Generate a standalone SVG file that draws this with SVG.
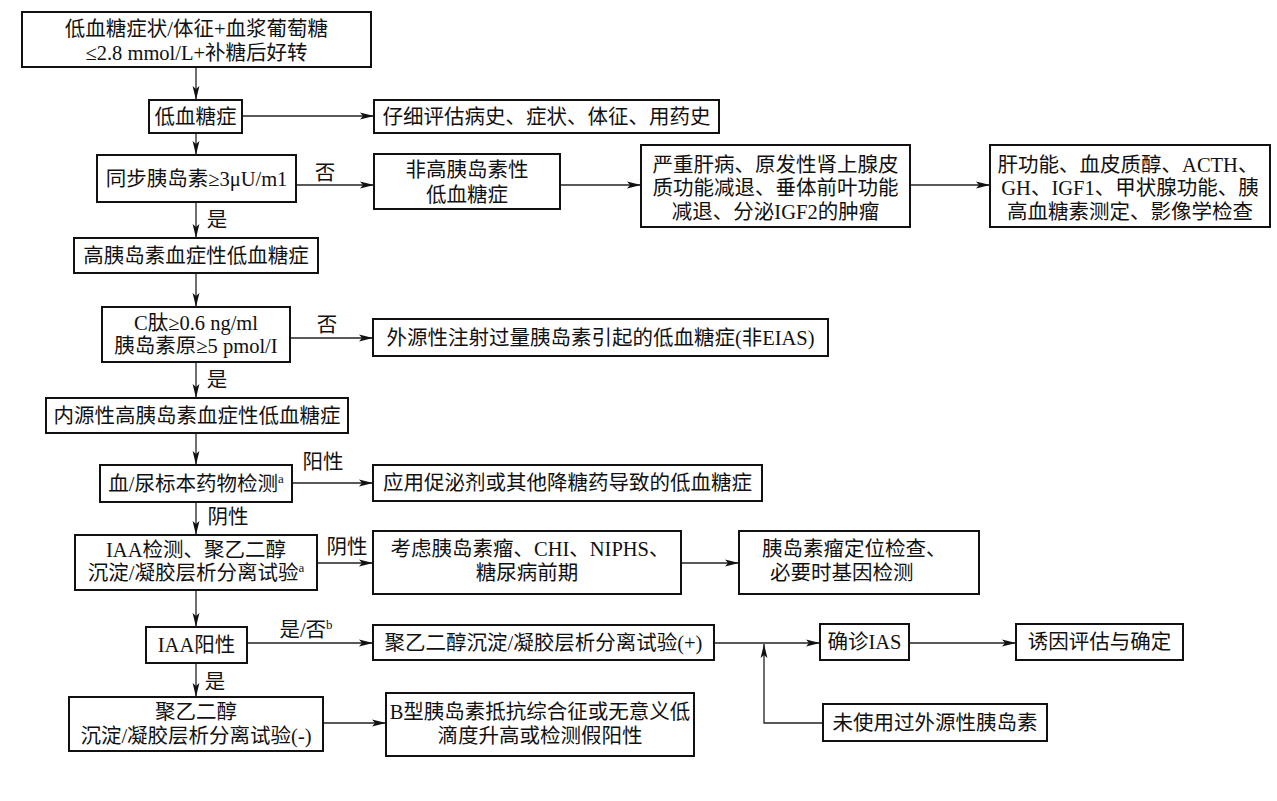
<svg xmlns="http://www.w3.org/2000/svg" width="1277" height="801" viewBox="0 0 1277 801">
<style>
.box{fill:#fff;stroke:#111;stroke-width:2}
.t{font-family:"Liberation Serif","Noto Sans CJK SC",serif;font-size:20.5px;fill:#111;text-anchor:middle}
.ts{text-anchor:start}
.c{fill:none;stroke:#222;stroke-width:1.3}
.sup{font-size:13px}
</style>
<defs>
<marker id="ah" markerUnits="userSpaceOnUse" markerWidth="14" markerHeight="8" refX="14" refY="4" orient="auto">
<path d="M0,0.6 L14,4 L0,7.4 L3,4 z" fill="#111"/>
</marker>
</defs>
<rect width="1277" height="801" fill="#fff"/>
<g id="connectors">
<path class="c" d="M196,67 V100" marker-end="url(#ah)"/>
<path class="c" d="M242,116 H374" marker-end="url(#ah)"/>
<path class="c" d="M196,133 V155" marker-end="url(#ah)"/>
<path class="c" d="M296,185 H374" marker-end="url(#ah)"/>
<path class="c" d="M560,185 H641" marker-end="url(#ah)"/>
<path class="c" d="M910,185 H990" marker-end="url(#ah)"/>
<path class="c" d="M196,202 V238" marker-end="url(#ah)"/>
<path class="c" d="M196,273 V307" marker-end="url(#ah)"/>
<path class="c" d="M290,338 H373" marker-end="url(#ah)"/>
<path class="c" d="M196,362 V398" marker-end="url(#ah)"/>
<path class="c" d="M196,433 V465" marker-end="url(#ah)"/>
<path class="c" d="M292,483 H373" marker-end="url(#ah)"/>
<path class="c" d="M196,502 V535" marker-end="url(#ah)"/>
<path class="c" d="M317,563 H373" marker-end="url(#ah)"/>
<path class="c" d="M681,563 H739" marker-end="url(#ah)"/>
<path class="c" d="M196,590 V627" marker-end="url(#ah)"/>
<path class="c" d="M247,643 H373" marker-end="url(#ah)"/>
<path class="c" d="M714,643 H820" marker-end="url(#ah)"/>
<path class="c" d="M823,723 H764 V644" marker-end="url(#ah)"/>
<path class="c" d="M909,643 H1016" marker-end="url(#ah)"/>
<path class="c" d="M196,663 V697" marker-end="url(#ah)"/>
<path class="c" d="M323,723 H386" marker-end="url(#ah)"/>
</g>
<g id="labels">
<text class="t" x="325" y="180">否</text>
<text class="t" x="217" y="227">是</text>
<text class="t" x="327" y="332">否</text>
<text class="t" x="217" y="387">是</text>
<text class="t" x="323" y="469">阳性</text>
<text class="t" x="228" y="524">阴性</text>
<text class="t" x="347" y="554">阴性</text>
<text class="t" x="306" y="637">是/否<tspan class="sup" dy="-8">b</tspan></text>
<text class="t" x="215" y="689">是</text>
</g>
<g id="n1"><rect class="box" x="22" y="12" width="349" height="55"/>
<text class="t" x="196.5" y="36">低血糖症状/体征+血浆葡萄糖</text>
<text class="t" x="196.5" y="60">≤2.8 mmol/L+补糖后好转</text></g>
<g id="n2"><rect class="box" x="149" y="100" width="93" height="33"/>
<text class="t" x="195.5" y="123.5">低血糖症</text></g>
<g id="n3"><rect class="box" x="374" y="100" width="345" height="33"/>
<text class="t" x="546.5" y="123.5">仔细评估病史、症状、体征、用药史</text></g>
<g id="n4"><rect class="box" x="97" y="155" width="199" height="47"/>
<text class="t" x="196.5" y="185.5">同步胰岛素≥3μU/m1</text></g>
<g id="n5"><rect class="box" x="374" y="154" width="186" height="55"/>
<text class="t" x="467" y="177">非高胰岛素性</text>
<text class="t" x="467" y="202">低血糖症</text></g>
<g id="n6"><rect class="box" x="641" y="145" width="269" height="82"/>
<text class="t" x="775.5" y="172">严重肝病、原发性肾上腺皮</text>
<text class="t" x="775.5" y="195">质功能减退、垂体前叶功能</text>
<text class="t" x="775.5" y="219">减退、分泌IGF2的肿瘤</text></g>
<g id="n7"><rect class="box" x="990" y="145" width="280" height="82"/>
<text class="t" x="1128" y="172">肝功能、血皮质醇、ACTH、</text>
<text class="t" x="1130" y="195">GH、IGF1、甲状腺功能、胰</text>
<text class="t" x="1130" y="219">高血糖素测定、影像学检查</text></g>
<g id="n8"><rect class="box" x="74" y="238" width="244" height="35"/>
<text class="t" x="196" y="262.5">高胰岛素血症性低血糖症</text></g>
<g id="n9"><rect class="box" x="102" y="307" width="188" height="55"/>
<text class="t" x="196" y="330">C肽≥0.6 ng/ml</text>
<text class="t" x="196" y="353">胰岛素原≥5 pmol/I</text></g>
<g id="n10"><rect class="box" x="373" y="319" width="455" height="37"/>
<text class="t" x="600.5" y="344.5">外源性注射过量胰岛素引起的低血糖症(非EIAS)</text></g>
<g id="n11"><rect class="box" x="46" y="398" width="302" height="35"/>
<text class="t" x="197" y="422.5">内源性高胰岛素血症性低血糖症</text></g>
<g id="n12"><rect class="box" x="100" y="465" width="192" height="37"/>
<text class="t" x="196" y="490.5">血/尿标本药物检测<tspan class="sup" dy="-8">a</tspan></text></g>
<g id="n13"><rect class="box" x="373" y="465" width="389" height="36"/>
<text class="t" x="567.5" y="490">应用促泌剂或其他降糖药导致的低血糖症</text></g>
<g id="n14"><rect class="box" x="75" y="535" width="242" height="55"/>
<text class="t" x="196" y="557">IAA检测、聚乙二醇</text>
<text class="t" x="196" y="580">沉淀/凝胶层析分离试验<tspan class="sup" dy="-8">a</tspan></text></g>
<g id="n15"><rect class="box" x="373" y="531" width="308" height="63"/>
<text class="t" x="530" y="556">考虑胰岛素瘤、CHI、NIPHS、</text>
<text class="t" x="527" y="580">糖尿病前期</text></g>
<g id="n16"><rect class="box" x="739" y="531" width="240" height="63"/>
<text class="t ts" x="762" y="556">胰岛素瘤定位检查、</text>
<text class="t ts" x="770" y="580">必要时基因检测</text></g>
<g id="n17"><rect class="box" x="146" y="627" width="101" height="36"/>
<text class="t" x="196.5" y="652">IAA阳性</text></g>
<g id="n18"><rect class="box" x="373" y="625" width="341" height="35"/>
<text class="t" x="543.5" y="649.5">聚乙二醇沉淀/凝胶层析分离试验(+)</text></g>
<g id="n19"><rect class="box" x="820" y="624" width="89" height="36"/>
<text class="t" x="864.5" y="649">确诊IAS</text></g>
<g id="n20"><rect class="box" x="1016" y="624" width="167" height="36"/>
<text class="t" x="1099.5" y="649">诱因评估与确定</text></g>
<g id="n21"><rect class="box" x="823" y="704" width="224" height="37"/>
<text class="t" x="935" y="729.5">未使用过外源性胰岛素</text></g>
<g id="n22"><rect class="box" x="69" y="697" width="254" height="54"/>
<text class="t" x="196" y="719">聚乙二醇</text>
<text class="t" x="196" y="743">沉淀/凝胶层析分离试验(-)</text></g>
<g id="n23"><rect class="box" x="386" y="693" width="308" height="63"/>
<text class="t" x="540" y="719">B型胰岛素抵抗综合征或无意义低</text>
<text class="t" x="540" y="743">滴度升高或检测假阳性</text></g>
</svg>
